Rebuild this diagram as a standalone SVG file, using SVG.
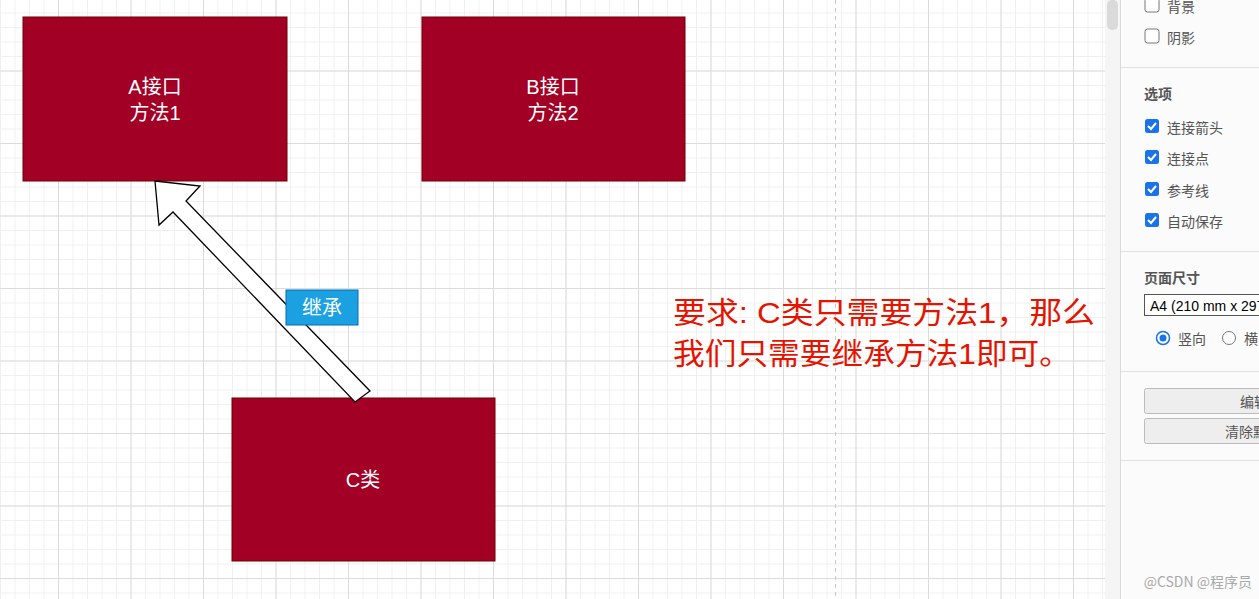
<svg xmlns="http://www.w3.org/2000/svg" width="1259" height="599" viewBox="0 0 1259 599">
<defs>
<pattern id="minor" x="-14.5" y="-2" width="14.5" height="14.5" patternUnits="userSpaceOnUse"><path d="M0 0.5H14.5M0.5 0V14.5" stroke="#f0f0f0" stroke-width="1" fill="none"/></pattern>
<pattern id="major" x="-14.5" y="-2" width="72.5" height="72.5" patternUnits="userSpaceOnUse"><path d="M0 0.5H72.5M0.5 0V72.5" stroke="#dcdcdc" stroke-width="1" fill="none"/></pattern>
</defs>
<style>
.node{fill:#a20025;stroke:#6f0000;stroke-width:1}
.nt{fill:#fff;font-family:"Liberation Sans","Noto Sans CJK SC",sans-serif;font-size:20px;text-anchor:middle}
.ui{fill:#555;font-family:"Noto Sans CJK SC",sans-serif;font-size:14px}
.cb{fill:#1a73e8;}
.red{fill:#e51400;font-family:"Liberation Sans","Noto Sans CJK SC",sans-serif;font-size:30px}
</style>
<rect width="1259" height="599" fill="#fff"/>
<rect width="1105" height="599" fill="url(#minor)"/>
<rect width="1105" height="599" fill="url(#major)"/>
<line x1="835.5" y1="0" x2="835.5" y2="599" stroke="#c8c8c8" stroke-dasharray="4 4"/>
<g id="nodeA"><rect class="node" x="23" y="17" width="264" height="164"/><text class="nt" x="155" y="94">A接口</text><text class="nt" x="155" y="120">方法1</text></g>
<g id="nodeB"><rect class="node" x="422" y="17" width="263" height="164"/><text class="nt" x="553" y="94">B接口</text><text class="nt" x="553" y="120">方法2</text></g>
<g id="nodeC"><rect class="node" x="232" y="398" width="263" height="163"/><text class="nt" x="363" y="487">C类</text></g>
<g id="connectors">
<polygon points="155,181 200,186 186,201 370,391 355,402 173,212 159,225" fill="#fff" stroke="#000" stroke-width="1.3" stroke-linejoin="miter"/>
<rect x="286" y="290" width="72" height="35" fill="#1ba1e2" stroke="#006eaf"/>
<text class="nt" x="322" y="315">继承</text>
</g>
<g id="note"><text class="red" x="673" y="323" textLength="422" lengthAdjust="spacingAndGlyphs">要求: C类只需要方法1，那么</text>
<text class="red" x="673" y="364" textLength="398" lengthAdjust="spacingAndGlyphs">我们只需要继承方法1即可。</text></g>
<rect x="1105" y="0" width="15" height="599" fill="#f5f5f5"/>
<rect x="1107" y="0" width="11" height="30" rx="5" fill="#dadada"/>
<rect x="1120" y="0" width="139" height="599" fill="#fbfbfb"/>
<line x1="1120.5" y1="0" x2="1120.5" y2="599" stroke="#dadada"/>
<line x1="1121" y1="67.5" x2="1259" y2="67.5" stroke="#e0e0e0"/>
<line x1="1121" y1="251.5" x2="1259" y2="251.5" stroke="#e0e0e0"/>
<line x1="1121" y1="371.5" x2="1259" y2="371.5" stroke="#e0e0e0"/>
<line x1="1121" y1="460.5" x2="1259" y2="460.5" stroke="#e0e0e0"/>
<rect x="1145" y="-2" width="14" height="14" rx="2.5" fill="#fff" stroke="#767676"/><text class="ui" x="1167" y="12">背景</text>
<rect x="1145" y="29" width="14" height="14" rx="2.5" fill="#fff" stroke="#767676"/><text class="ui" x="1167" y="43">阴影</text>
<text class="ui" x="1144" y="99" font-weight="bold" font-size="13">选项</text>
<g><rect class="cb" x="1145" y="119" width="14" height="14" rx="2.5"/><path d="M1148 126l3 3 5-6" stroke="#fff" stroke-width="2" fill="none"/><text class="ui" x="1167" y="133">连接箭头</text></g>
<g><rect class="cb" x="1145" y="150" width="14" height="14" rx="2.5"/><path d="M1148 157l3 3 5-6" stroke="#fff" stroke-width="2" fill="none"/><text class="ui" x="1167" y="164">连接点</text></g>
<g><rect class="cb" x="1145" y="182" width="14" height="14" rx="2.5"/><path d="M1148 189l3 3 5-6" stroke="#fff" stroke-width="2" fill="none"/><text class="ui" x="1167" y="196">参考线</text></g>
<g><rect class="cb" x="1145" y="213" width="14" height="14" rx="2.5"/><path d="M1148 220l3 3 5-6" stroke="#fff" stroke-width="2" fill="none"/><text class="ui" x="1167" y="227">自动保存</text></g>
<text class="ui" x="1144" y="283" font-weight="bold" font-size="13">页面尺寸</text>
<rect x="1144.5" y="294.5" width="120" height="21" fill="#fff" stroke="#555"/>
<text x="1150" y="311" fill="#000" font-family="Liberation Sans,sans-serif" font-size="14">A4 (210 mm x 297 mm)</text>
<circle cx="1163" cy="338" r="6.5" fill="#fff" stroke="#1a73e8" stroke-width="1.5"/><circle cx="1163" cy="338" r="3.5" fill="#1a73e8"/>
<text class="ui" x="1178" y="344">竖向</text>
<circle cx="1229" cy="338" r="6.5" fill="#fff" stroke="#767676"/>
<text class="ui" x="1244" y="344">横向</text>
<rect x="1144.5" y="388.5" width="130" height="25" rx="2" fill="#eee" stroke="#bbb"/><text class="ui" x="1240" y="407" fill="#333">编辑</text>
<rect x="1144.5" y="418.5" width="130" height="25" rx="2" fill="#eee" stroke="#bbb"/><text class="ui" x="1225" y="437" fill="#333">清除默认</text>
<text x="1252" y="587" text-anchor="end" fill="#aaa" font-family="Noto Sans CJK SC,sans-serif" font-size="14">@CSDN @程序员</text>
</svg>
